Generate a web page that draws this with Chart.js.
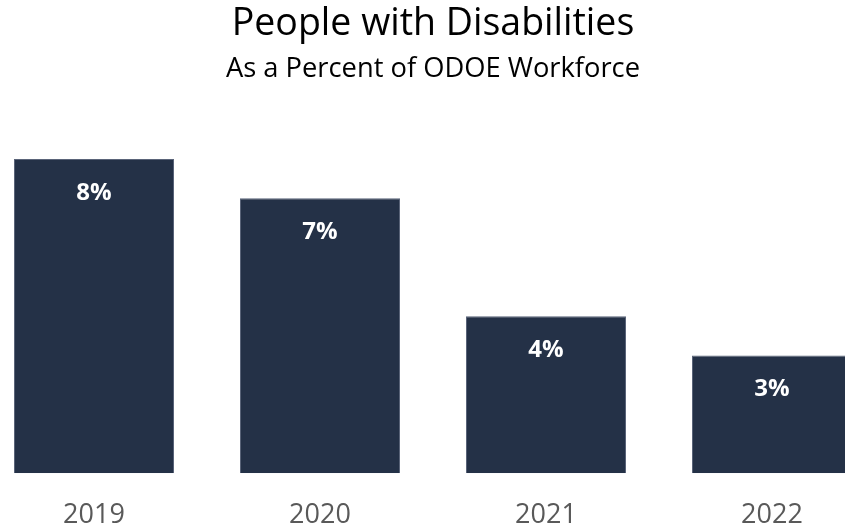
<!DOCTYPE html>
<html>
<head>
<meta charset="utf-8">
<script src="https://cdn.jsdelivr.net/npm/chart.js@4/dist/chart.umd.min.js"></script>
<style>
    html, body { margin: 0; padding: 0; background: #fff; overflow: hidden; }
    body { width: 845px; height: 529px; position: relative; overflow: hidden; }
    /* 画布比窗口大，左右和底部裁掉一点，和原图一样最后一根柱子被截断 */
    .wrap { position: absolute; left: -19px; top: 0; width: 904px; height: 557px; }
</style>
</head>
<body>
<div class="wrap"><canvas id="disChart"></canvas></div>
<script>
// 数据
const years = ['2019', '2020', '2021', '2022'];
const pctValues = [8, 7, 4, 3];
const titleText = 'People with Disabilities';
const subtitleText = 'As a Percent of ODOE Workforce';

const FONT = "'Open Sans', 'Noto Sans', sans-serif";

// 柱内白色百分比标签
const barLabels = {
    id: 'barLabels',
    afterDatasetsDraw(chart) {
        const { ctx } = chart;
        const meta = chart.getDatasetMeta(0);
        ctx.save();
        ctx.fillStyle = '#ffffff';
        ctx.font = `bold 24px ${FONT}`;
        ctx.textAlign = 'center';
        ctx.textBaseline = 'alphabetic';
        meta.data.forEach((bar, i) => {
            ctx.fillText(pctValues[i] + '%', bar.x, bar.y + 41);
        });
        ctx.restore();
    }
};

new Chart(document.getElementById('disChart'), {
    type: 'bar',
    data: {
        labels: years,
        datasets: [{
            data: pctValues,
            backgroundColor: '#243147',
            borderColor: '#5a6479',
            borderWidth: 1,
            categoryPercentage: 1,
            barPercentage: 0.708
        }]
    },
    options: {
        responsive: true,
        maintainAspectRatio: false,
        animation: false,
        layout: { padding: 0 },
        plugins: {
            legend: { display: false },
            tooltip: { enabled: false },
            title: {
                display: true,
                text: titleText,
                color: '#000000',
                font: { family: FONT, size: 37.5, weight: 'normal' },
                padding: { top: 2, bottom: 0 }
            },
            subtitle: {
                display: true,
                text: subtitleText,
                color: '#000000',
                font: { family: FONT, size: 27.3, weight: 'normal' },
                padding: { top: 6, bottom: 34 }
            }
        },
        scales: {
            x: {
                grid: { display: false, drawTicks: false },
                border: { display: false },
                ticks: { color: '#595959', font: { family: FONT, size: 27, lineHeight: 1.1 }, padding: 27 }
            },
            y: {
                display: false,
                min: 0,
                max: 9
            }
        }
    },
    plugins: [barLabels]
});
</script>
</body>
</html>
